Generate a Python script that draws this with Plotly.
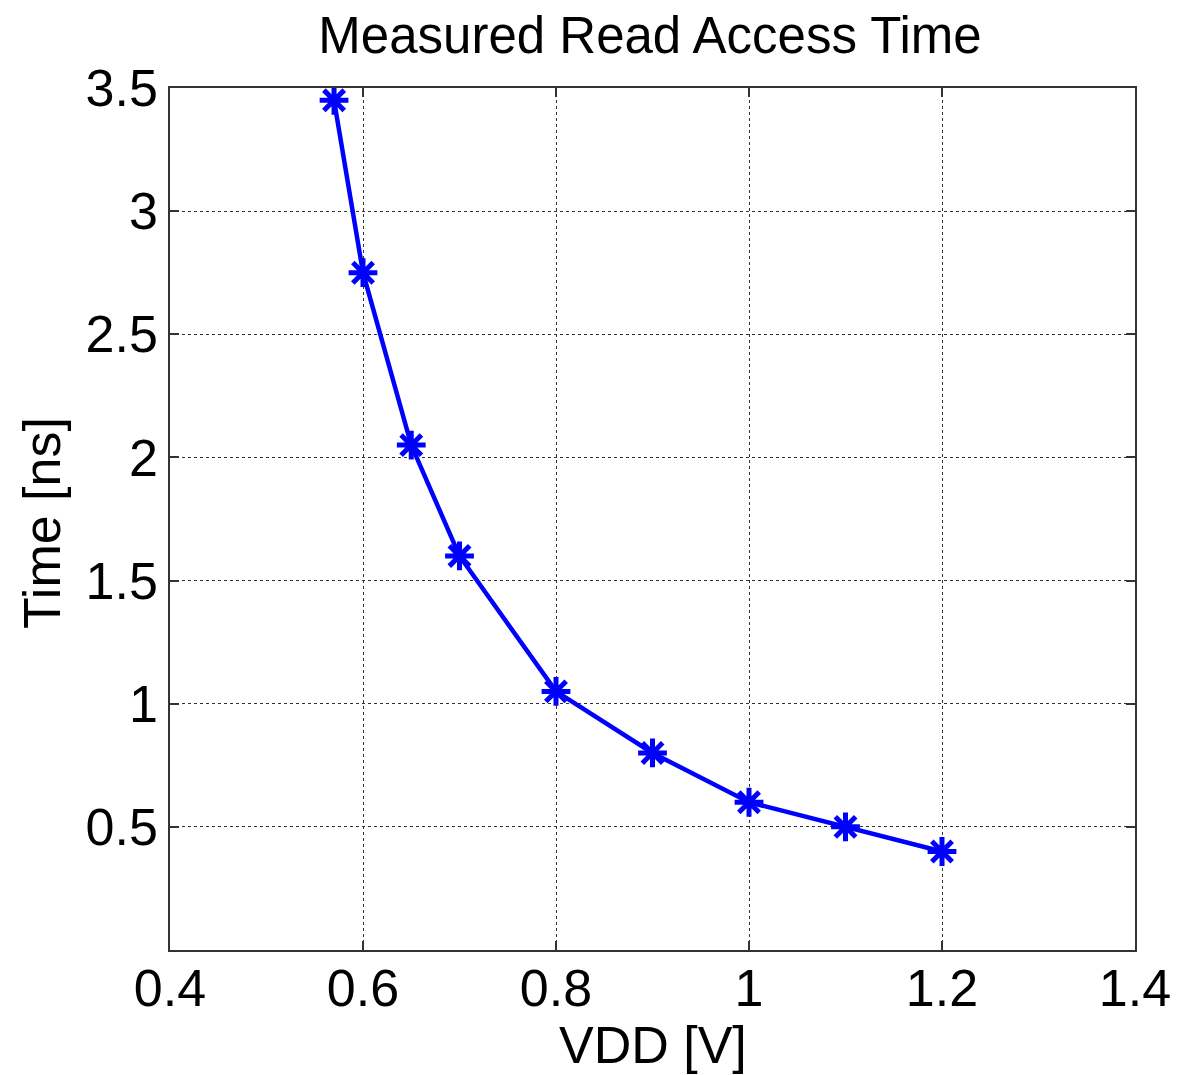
import plotly.graph_objects as go

vdd = [0.57, 0.6, 0.65, 0.7, 0.8, 0.9, 1.0, 1.1, 1.2]
time_ns = [3.45, 2.75, 2.05, 1.6, 1.05, 0.8, 0.6, 0.5, 0.4]

x_ticks = [0.4, 0.6, 0.8, 1.0, 1.2, 1.4]
x_labels = ["0.4", "0.6", "0.8", "1", "1.2", "1.4"]
y_ticks = [0.5, 1.0, 1.5, 2.0, 2.5, 3.0, 3.5]
y_labels = ["0.5", "1", "1.5", "2", "2.5", "3", "3.5"]

FONT = "Liberation Sans, Arial, sans-serif"

# page body has an 8px offset; plot area in figure coords
L, T, R, B = 162, 80, 1127, 942
W, H = 1191, 1075

fig = go.Figure()
fig.add_trace(go.Scatter(
    x=vdd, y=time_ns, mode="lines+markers",
    line=dict(color="#0000ff", width=4.5),
    marker=dict(symbol="asterisk-open", size=24, color="#0000ff",
                line=dict(color="#0000ff", width=5)),
    showlegend=False,
))

axis_common = dict(
    showline=True, linecolor="#333333", linewidth=1.5, mirror="ticks",
    ticks="inside", ticklen=9, tickcolor="#333333", tickwidth=1.5,
    showgrid=True, gridcolor="#333333", gridwidth=1, griddash="3px,3px",
    zeroline=False,
    tickfont=dict(family=FONT, size=52, color="black"),
)

fig.update_xaxes(range=[0.4, 1.4], tickvals=x_ticks, ticktext=x_labels,
                 ticklabelstandoff=-8, **axis_common)
fig.update_yaxes(range=[0, 3.5], tickvals=y_ticks, ticktext=y_labels,
                 **axis_common)

ph = B - T
pw = R - L
fig.add_annotation(text="VDD [V]", xref="paper", yref="paper", x=0.5,
                   y=(B - 1037) / ph, xanchor="center", yanchor="middle",
                   showarrow=False, font=dict(family=FONT, size=52, color="black"))
fig.add_annotation(text="Time [ns]", xref="paper", yref="paper", x=(34 - L) / pw,
                   y=(B - 515) / ph, xanchor="center", yanchor="middle", textangle=-90,
                   showarrow=False, font=dict(family=FONT, size=52, color="black"))

fig.update_layout(
    width=W, height=H,
    margin=dict(l=L, r=W - R, t=T, b=H - B),
    paper_bgcolor="white", plot_bgcolor="white",
    title=dict(text="Measured Read Access Time", x=642 / W, xanchor="center",
               y=1 - 27 / H, yanchor="middle", yref="container",
               font=dict(family=FONT, size=51, color="black")),
)

fig.write_html("out.html")
